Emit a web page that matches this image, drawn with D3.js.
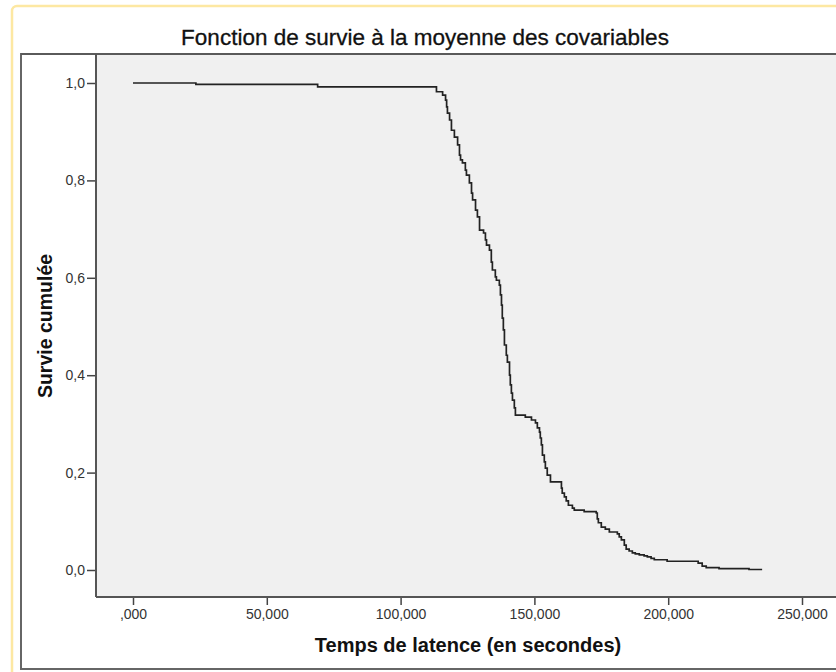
<!DOCTYPE html>
<html>
<head>
<meta charset="utf-8">
<script src="https://cdn.jsdelivr.net/npm/d3@7"></script>
<style>
  body { margin: 0; background: #fff; }
  text { font-family: "Liberation Sans", Arial, sans-serif; }
</style>
</head>
<body>
<script>
// survival curve steps (time in seconds, cumulative survival)
const survTimes = [0, 23.5, 69.0, 113.4, 115.7, 116.8, 117.2, 117.5, 118.3, 119.0,
  120.1, 121.3, 122.0, 122.4, 123.1, 124.2, 124.6, 125.7, 126.5, 126.9,
  128.0, 128.7, 129.5, 131.0, 131.7, 132.1, 133.2, 133.9, 134.3, 135.4,
  135.8, 136.9, 137.3, 137.7, 138.0, 138.4, 138.8, 139.5, 139.9, 140.7,
  141.0, 141.4, 141.8, 142.5, 142.9, 146.6, 148.9, 150.4, 151.1, 151.9,
  152.2, 152.6, 153.0, 153.7, 154.1, 154.8, 156.0, 160.1, 160.4, 161.2,
  161.9, 162.7, 164.2, 164.9, 168.6, 173.1, 173.5, 173.9, 175.0, 176.5,
  178.0, 181.0, 181.7, 182.5, 183.6, 184.3, 185.4, 186.6, 187.7, 189.2,
  191.0, 192.2, 193.6, 194.8, 199.6, 211.2, 212.7, 214.2, 219.0, 230.2, 235.1];
const survValues = [1.000, 0.997, 0.992, 0.982, 0.975, 0.965, 0.951, 0.938, 0.924, 0.903,
  0.889, 0.873, 0.852, 0.842, 0.836, 0.821, 0.811, 0.795, 0.774, 0.760,
  0.739, 0.725, 0.698, 0.692, 0.678, 0.667, 0.657, 0.632, 0.616, 0.602,
  0.595, 0.585, 0.565, 0.544, 0.517, 0.493, 0.462, 0.441, 0.427, 0.400,
  0.380, 0.363, 0.349, 0.333, 0.318, 0.314, 0.308, 0.302, 0.292, 0.283,
  0.271, 0.257, 0.236, 0.222, 0.209, 0.195, 0.181, 0.168, 0.158, 0.150,
  0.142, 0.133, 0.127, 0.123, 0.120, 0.117, 0.105, 0.097, 0.088, 0.084,
  0.078, 0.074, 0.068, 0.062, 0.051, 0.043, 0.039, 0.035, 0.033, 0.031,
  0.029, 0.027, 0.024, 0.021, 0.018, 0.014, 0.008, 0.005, 0.003, 0.001, 0.001];

const xTickValues = [0, 50, 100, 150, 200, 250];
const xTickLabels = [",000", "50,000", "100,000", "150,000", "200,000", "250,000"];
const yTickValues = [0, 0.2, 0.4, 0.6, 0.8, 1.0];
const yTickLabels = ["0,0", "0,2", "0,4", "0,6", "0,8", "1,0"];

const data = survTimes.map((t, i) => ({t: t, s: survValues[i]}));

// create svg canvas
const canvWidth = 836, canvHeight = 672;
const svg = d3.select("body").append("svg")
    .attr("width", canvWidth)
    .attr("height", canvHeight);

// plot area bounds
const plot = {left: 96, top: 54, right: 850, bottom: 597};

// scales
const xScale = d3.scaleLinear().domain([0, 250]).range([133, 802]);
const yScale = d3.scaleLinear().domain([0, 1]).range([570, 83]);

// yellow outer border
svg.append("rect")
    .attr("x", 12).attr("y", 6)
    .attr("width", 900).attr("height", 700)
    .attr("rx", 5)
    .attr("fill", "#fff")
    .attr("stroke", "#fde8a2")
    .attr("stroke-width", 2.5);

// chart frame
svg.append("rect")
    .attr("x", 21).attr("y", 54)
    .attr("width", 900).attr("height", 615)
    .attr("fill", "#fff")
    .attr("stroke", "#666")
    .attr("stroke-width", 2);

// plot background
svg.append("rect")
    .attr("x", plot.left).attr("y", plot.top)
    .attr("width", plot.right - plot.left).attr("height", plot.bottom - plot.top)
    .attr("fill", "#f0f0f0");

svg.append("line")
    .attr("x1", 21).attr("x2", canvWidth)
    .attr("y1", 54).attr("y2", 54)
    .attr("stroke", "#5a5a5a").attr("stroke-width", 2);

// chart title
svg.append("text")
    .attr("x", 425)
    .attr("y", 45)
    .attr("font-size", "22.5px")
    .attr("fill", "#111")
    .attr("stroke", "#111")
    .attr("stroke-width", 0.3)
    .style("text-anchor", "middle")
    .text("Fonction de survie à la moyenne des covariables");

// x axis
const xAxis = svg.append("g")
    .attr("transform", "translate(0," + plot.bottom + ")")
    .call(d3.axisBottom(xScale)
        .tickValues(xTickValues)
        .tickFormat((d, i) => xTickLabels[i])
        .tickSize(8)
        .tickPadding(4)
        .tickSizeOuter(0));
xAxis.select(".domain").remove();
xAxis.append("line")
    .attr("x1", plot.left).attr("x2", plot.right)
    .attr("stroke", "#555").attr("stroke-width", 2);

// y axis
const yAxis = svg.append("g")
    .attr("transform", "translate(" + plot.left + ",0)")
    .call(d3.axisLeft(yScale)
        .tickValues(yTickValues)
        .tickFormat((d, i) => yTickLabels[i])
        .tickSize(9)
        .tickPadding(2)
        .tickSizeOuter(0));
yAxis.select(".domain").remove();
yAxis.append("line")
    .attr("y1", plot.top).attr("y2", plot.bottom)
    .attr("stroke", "#555").attr("stroke-width", 2);

svg.selectAll(".tick line").attr("stroke", "#444").attr("stroke-width", 1.5);
svg.selectAll(".tick text")
    .attr("font-family", "Liberation Sans, Arial, sans-serif")
    .attr("font-size", "14px")
    .attr("fill", "#333");

// axis titles
svg.append("text")
    .attr("x", 468)
    .attr("y", 652)
    .attr("font-size", "20px")
    .attr("font-weight", "bold")
    .attr("fill", "#111")
    .style("text-anchor", "middle")
    .text("Temps de latence (en secondes)");

svg.append("text")
    .attr("transform", "translate(52,326) rotate(-90)")
    .attr("font-size", "19.5px")
    .attr("font-weight", "bold")
    .attr("fill", "#111")
    .style("text-anchor", "middle")
    .text("Survie cumulée");

// survival step line
const line = d3.line()
    .x(d => xScale(d.t))
    .y(d => yScale(d.s))
    .curve(d3.curveStepAfter);

svg.append("path")
    .datum(data)
    .attr("d", line)
    .attr("fill", "none")
    .attr("stroke", "#222")
    .attr("stroke-width", 1.7);
</script>
</body>
</html>
